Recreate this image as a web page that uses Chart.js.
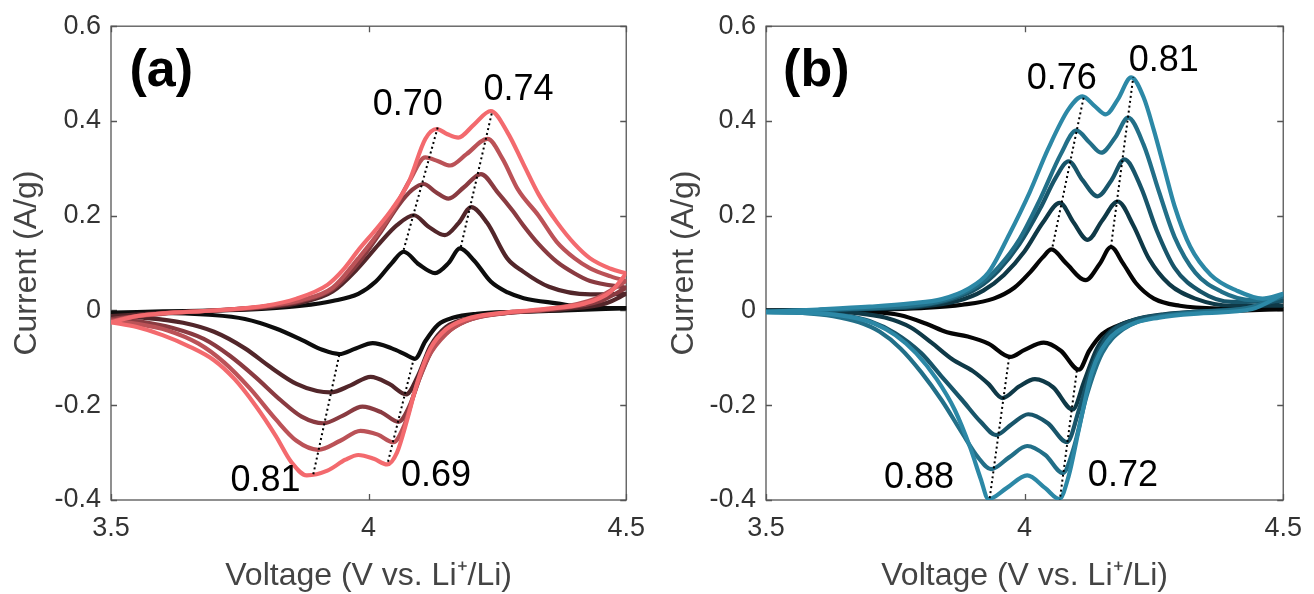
<!DOCTYPE html>
<html><head><meta charset="utf-8">
<script src="https://cdn.jsdelivr.net/npm/chart.js@4.4.0/dist/chart.umd.min.js"></script>
<style>
html,body{margin:0;padding:0;background:#fff;}
#wrap{position:relative;width:1314px;height:594px;overflow:hidden;}
.panel{position:absolute;top:0;width:657px;height:594px;}
</style></head><body>
<div id="wrap">
<div class="panel" style="left:0"><canvas id="ca" width="657" height="594"></canvas></div>
<div class="panel" style="left:657px"><canvas id="cb" width="657" height="594"></canvas></div>
</div>
<script>
// ---------- tick labels ----------
const xTicks = [3.5, 4, 4.5];
const yTicks = [-0.4, -0.2, 0, 0.2, 0.4, 0.6];

// ---------- panel (a): anodic (up) and cathodic (dn) branches, 5 scan rates ----------
const vA1up = [3.5, 3.6, 3.7, 3.8, 3.87, 3.93, 3.98, 4.014, 4.045, 4.068, 4.098, 4.129, 4.155, 4.177, 4.205, 4.237, 4.27, 4.301, 4.365, 4.43, 4.5];
const iA1up = [-0.005, -0.002, 0.0, 0.004, 0.01, 0.02, 0.035, 0.061, 0.1, 0.124, 0.097, 0.079, 0.1, 0.131, 0.105, 0.061, 0.038, 0.026, 0.015, 0.006, 0.005];
const vA1dn = [3.5, 3.6, 3.69, 3.76, 3.82, 3.87, 3.91, 3.943, 3.975, 4.008, 4.045, 4.07, 4.09, 4.11, 4.135, 4.165, 4.21, 4.28, 4.38, 4.5];
const iA1dn = [-0.005, -0.005, -0.009, -0.018, -0.038, -0.062, -0.083, -0.092, -0.08, -0.069, -0.08, -0.092, -0.102, -0.065, -0.03, -0.015, -0.007, -0.003, 0.0, 0.005];

const vA2up = [3.5, 3.6, 3.7, 3.8, 3.87, 3.93, 3.98, 4.02, 4.055, 4.088, 4.115, 4.148, 4.175, 4.199, 4.23, 4.269, 4.3, 4.35, 4.43, 4.5];
const iA2up = [-0.012, -0.005, 0.0, 0.006, 0.017, 0.04, 0.09, 0.14, 0.18, 0.201, 0.178, 0.159, 0.185, 0.218, 0.185, 0.11, 0.082, 0.05, 0.034, 0.035];
const vA2dn = [3.5, 3.57, 3.64, 3.7, 3.76, 3.81, 3.86, 3.9, 3.926, 3.965, 4.004, 4.04, 4.073, 4.095, 4.12, 4.15, 4.2, 4.28, 4.38, 4.46, 4.5];
const iA2dn = [-0.012, -0.016, -0.026, -0.045, -0.08, -0.12, -0.155, -0.17, -0.173, -0.158, -0.14, -0.155, -0.177, -0.14, -0.075, -0.035, -0.015, -0.004, 0.003, 0.015, 0.035];

const vA3up = [3.5, 3.6, 3.7, 3.8, 3.87, 3.93, 3.98, 4.02, 4.06, 4.085, 4.107, 4.13, 4.155, 4.185, 4.218, 4.25, 4.28, 4.3, 4.33, 4.365, 4.4, 4.43, 4.5];
const iA3up = [-0.018, -0.007, 0.0, 0.008, 0.02, 0.045, 0.1, 0.16, 0.225, 0.255, 0.267, 0.25, 0.236, 0.26, 0.288, 0.25, 0.21, 0.18, 0.14, 0.103, 0.078, 0.062, 0.048];
const vA3dn = [3.5, 3.56, 3.62, 3.68, 3.73, 3.78, 3.83, 3.87, 3.912, 3.95, 3.988, 4.025, 4.058, 4.08, 4.1, 4.125, 4.16, 4.2, 4.27, 4.36, 4.45, 4.5];
const iA3dn = [-0.018, -0.024, -0.037, -0.06, -0.095, -0.14, -0.19, -0.224, -0.238, -0.222, -0.203, -0.215, -0.235, -0.2, -0.14, -0.08, -0.04, -0.018, -0.005, 0.003, 0.02, 0.048];

const vA4up = [3.5, 3.55, 3.6, 3.7, 3.8, 3.87, 3.93, 3.98, 4.02, 4.05, 4.08, 4.11, 4.135, 4.158, 4.19, 4.231, 4.26, 4.29, 4.33, 4.365, 4.4, 4.43, 4.47, 4.5];
const iA4up = [-0.022, -0.012, -0.006, 0.0, 0.009, 0.022, 0.048, 0.11, 0.165, 0.215, 0.275, 0.323, 0.315, 0.306, 0.33, 0.362, 0.32, 0.255, 0.2, 0.145, 0.11, 0.089, 0.072, 0.062];
const vA4dn = [3.5, 3.55, 3.61, 3.67, 3.72, 3.77, 3.82, 3.86, 3.902, 3.945, 3.984, 4.018, 4.048, 4.07, 4.09, 4.115, 4.15, 4.19, 4.26, 4.35, 4.44, 4.5];
const iA4dn = [-0.022, -0.028, -0.042, -0.07, -0.11, -0.165, -0.23, -0.275, -0.294, -0.275, -0.254, -0.262, -0.278, -0.24, -0.17, -0.1, -0.05, -0.022, -0.006, 0.003, 0.025, 0.062];

const vA5up = [3.5, 3.55, 3.6, 3.7, 3.8, 3.86, 3.92, 3.95, 3.982, 4.015, 4.046, 4.078, 4.11, 4.132, 4.153, 4.174, 4.205, 4.237, 4.27, 4.3, 4.33, 4.365, 4.4, 4.43, 4.47, 4.5];
const iA5up = [-0.025, -0.012, -0.006, 0.0, 0.01, 0.025, 0.054, 0.085, 0.13, 0.172, 0.215, 0.271, 0.362, 0.383, 0.372, 0.365, 0.393, 0.421, 0.375, 0.31, 0.245, 0.187, 0.14, 0.11, 0.088, 0.078];
const vA5dn = [3.5, 3.55, 3.6, 3.65, 3.7, 3.74, 3.78, 3.82, 3.85, 3.88, 3.92, 3.955, 3.98, 4.01, 4.036, 4.055, 4.075, 4.095, 4.12, 4.15, 4.19, 4.25, 4.33, 4.42, 4.47, 4.5];
const iA5dn = [-0.025, -0.035, -0.052, -0.075, -0.105, -0.145, -0.2, -0.265, -0.32, -0.348, -0.338, -0.315, -0.305, -0.313, -0.325, -0.3, -0.23, -0.15, -0.08, -0.04, -0.018, -0.006, 0.002, 0.015, 0.04, 0.078];

// ---------- panel (b) ----------
const vB1up = [3.5, 3.6, 3.7, 3.8, 3.88, 3.94, 3.98, 4.01, 4.035, 4.052, 4.08, 4.118, 4.145, 4.167, 4.19, 4.215, 4.25, 4.3, 4.38, 4.5];
const iB1up = [0.0, 0.001, 0.002, 0.005, 0.012, 0.025, 0.048, 0.08, 0.112, 0.129, 0.1, 0.064, 0.098, 0.134, 0.1, 0.058, 0.025, 0.01, 0.004, 0.003];
const vB1dn = [3.5, 3.6, 3.7, 3.76, 3.81, 3.85, 3.89, 3.93, 3.972, 4.0, 4.037, 4.07, 4.105, 4.125, 4.15, 4.19, 4.25, 4.32, 4.4, 4.5];
const iB1dn = [0.0, 0.0, -0.003, -0.01, -0.028, -0.046, -0.055, -0.07, -0.098, -0.083, -0.068, -0.085, -0.125, -0.085, -0.05, -0.028, -0.013, -0.005, -0.001, 0.003];

const vB2up = [3.5, 3.6, 3.7, 3.8, 3.87, 3.92, 3.96, 4.0, 4.035, 4.068, 4.095, 4.122, 4.15, 4.18, 4.21, 4.24, 4.28, 4.33, 4.4, 4.5];
const iB2up = [0.0, 0.001, 0.003, 0.008, 0.02, 0.042, 0.075, 0.125, 0.185, 0.227, 0.185, 0.149, 0.19, 0.23, 0.18, 0.11, 0.055, 0.025, 0.01, 0.01];
const vB2dn = [3.5, 3.6, 3.68, 3.73, 3.78, 3.82, 3.86, 3.9, 3.93, 3.957, 3.99, 4.02, 4.055, 4.093, 4.115, 4.14, 4.17, 4.21, 4.27, 4.35, 4.43, 4.5];
const iB2dn = [-0.002, -0.002, -0.006, -0.015, -0.036, -0.068, -0.103, -0.128, -0.155, -0.185, -0.16, -0.145, -0.162, -0.209, -0.15, -0.08, -0.04, -0.02, -0.008, -0.002, 0.004, 0.02];

const vB3up = [3.5, 3.6, 3.7, 3.8, 3.86, 3.91, 3.95, 3.99, 4.03, 4.06, 4.085, 4.112, 4.141, 4.168, 4.193, 4.225, 4.255, 4.29, 4.34, 4.4, 4.5];
const iB3up = [-0.002, 0.001, 0.004, 0.01, 0.024, 0.048, 0.085, 0.14, 0.215, 0.28, 0.315, 0.275, 0.241, 0.275, 0.319, 0.26, 0.17, 0.09, 0.04, 0.018, 0.02];
const vB3dn = [3.5, 3.58, 3.65, 3.7, 3.75, 3.8, 3.84, 3.88, 3.915, 3.945, 3.975, 4.007, 4.045, 4.082, 4.105, 4.13, 4.16, 4.2, 4.26, 4.34, 4.43, 4.5];
const iB3dn = [-0.003, -0.004, -0.01, -0.022, -0.048, -0.09, -0.14, -0.19, -0.235, -0.263, -0.24, -0.219, -0.238, -0.278, -0.21, -0.12, -0.055, -0.025, -0.01, -0.002, 0.005, 0.025];

const vB4up = [3.5, 3.6, 3.7, 3.8, 3.86, 3.91, 3.95, 3.99, 4.03, 4.07, 4.1, 4.125, 4.148, 4.175, 4.2, 4.23, 4.26, 4.29, 4.33, 4.38, 4.44, 4.5];
const iB4up = [-0.003, 0.001, 0.005, 0.012, 0.027, 0.053, 0.092, 0.15, 0.235, 0.33, 0.38, 0.355, 0.333, 0.365, 0.407, 0.35, 0.25, 0.155, 0.08, 0.04, 0.022, 0.03];
const vB4dn = [3.5, 3.57, 3.63, 3.68, 3.72, 3.76, 3.8, 3.84, 3.88, 3.91, 3.935, 3.97, 4.005, 4.04, 4.074, 4.095, 4.12, 4.15, 4.19, 4.25, 4.33, 4.43, 4.5];
const iB4dn = [-0.003, -0.005, -0.012, -0.025, -0.045, -0.08, -0.13, -0.19, -0.26, -0.31, -0.335, -0.31, -0.286, -0.305, -0.343, -0.29, -0.18, -0.09, -0.04, -0.015, -0.004, 0.005, 0.03];

const vB5up = [3.5, 3.6, 3.7, 3.78, 3.84, 3.89, 3.93, 3.97, 4.01, 4.045, 4.085, 4.112, 4.135, 4.157, 4.18, 4.206, 4.23, 4.25, 4.27, 4.29, 4.32, 4.36, 4.41, 4.46, 4.5];
const iB5up = [-0.003, 0.002, 0.008, 0.015, 0.024, 0.045, 0.08, 0.16, 0.25, 0.34, 0.425, 0.452, 0.432, 0.414, 0.445, 0.492, 0.45, 0.38, 0.3, 0.22, 0.135, 0.075, 0.042, 0.025, 0.035];
const vB5dn = [3.5, 3.6, 3.66, 3.71, 3.75, 3.79, 3.83, 3.865, 3.895, 3.915, 3.93, 3.965, 4.005, 4.04, 4.067, 4.085, 4.105, 4.13, 4.16, 4.2, 4.26, 4.34, 4.44, 4.5];
const iB5dn = [-0.004, -0.006, -0.013, -0.028, -0.052, -0.09, -0.145, -0.21, -0.29, -0.355, -0.398, -0.375, -0.348, -0.375, -0.398, -0.35, -0.25, -0.13, -0.065, -0.032, -0.015, -0.006, 0.003, 0.035];

// ---------- dotted peak-shift guides (V pair, I pair) ----------
const gA1v = [4.068, 4.134], gA1i = [0.128, 0.386];
const gA2v = [4.179, 4.240], gA2i = [0.134, 0.421];
const gA3v = [3.943, 3.892], gA3i = [-0.094, -0.349];
const gA4v = [4.088, 4.037], gA4i = [-0.100, -0.322];
const gB1v = [4.054, 4.114], gB1i = [0.135, 0.449];
const gB2v = [4.167, 4.210], gB2i = [0.135, 0.492];
const gB3v = [3.970, 3.932], gB3i = [-0.099, -0.400];
const gB4v = [4.101, 4.068], gB4i = [-0.127, -0.400];

// ---------- peak-shift slope labels ----------
const labelsA = ['0.70', '0.74', '0.81', '0.69'];
const labelsB = ['0.76', '0.81', '0.88', '0.72'];

// ---------- styling ----------
const FONT = '"Liberation Sans", Arial, Helvetica, sans-serif';
const colorsA = ['#0d0d0d', '#52262a', '#8a3b41', '#bb5257', '#f36a6e'];
const colorsB = ['#050505', '#0f3947', '#18556a', '#226f88', '#2c88a6'];

const zip = (v, i) => v.map((x, k) => ({x: x, y: i[k]}));
const fmt = v => (Math.abs(v) < 1e-9 ? '0' : String(Math.round(v * 10) / 10));

const framePlugin = {
  id: 'frame',
  beforeDatasetsDraw(chart) {
    const {ctx, chartArea: a, scales: {x, y}} = chart;
    ctx.save();
    ctx.strokeStyle = '#555';
    ctx.lineWidth = 1.3;
    ctx.strokeRect(a.left, a.top, a.right - a.left, a.bottom - a.top);
    const L = 6;
    ctx.beginPath();
    xTicks.forEach(v => {
      const px = Math.round(x.getPixelForValue(v)) + 0.5;
      ctx.moveTo(px, a.bottom); ctx.lineTo(px, a.bottom - L);
      ctx.moveTo(px, a.top); ctx.lineTo(px, a.top + L);
    });
    yTicks.forEach(v => {
      const py = Math.round(y.getPixelForValue(v)) + 0.5;
      ctx.moveTo(a.left, py); ctx.lineTo(a.left + L, py);
      ctx.moveTo(a.right, py); ctx.lineTo(a.right - L, py);
    });
    ctx.stroke();
    ctx.restore();
  },
  afterDatasetsDraw(chart) {
    const {ctx, scales: {x, y}} = chart;
    const ann = chart.options.annot;
    ctx.save();
    ctx.fillStyle = '#000';
    ctx.textBaseline = 'middle';
    ctx.textAlign = 'center';
    ctx.font = '36px ' + FONT;
    ann.texts.forEach((t, k) => {
      ctx.fillText(t, x.getPixelForValue(ann.tx[k]), y.getPixelForValue(ann.ty[k]));
    });
    ctx.textAlign = 'left';
    ctx.font = 'bold 52px ' + FONT;
    ctx.fillText(ann.panel, x.getPixelForValue(ann.px), y.getPixelForValue(ann.py));
    ctx.restore();
  }
};

function build(id, curves, colors, guides, annot, yWidth) {
  const datasets = [];
  curves.forEach((c, k) => {
    [[c[0], c[1]], [c[2], c[3]]].forEach(br => {
      datasets.push({
        data: zip(br[0], br[1]),
        showLine: true,
        borderColor: colors[k],
        borderWidth: 4.2,
        pointRadius: 0,
        cubicInterpolationMode: 'monotone',
        borderCapStyle: 'round',
        borderJoinStyle: 'round',
        order: 10 - k
      });
    });
  });
  guides.forEach(g => {
    datasets.push({
      data: zip(g[0], g[1]),
      showLine: true,
      borderColor: '#000',
      borderWidth: 2,
      borderDash: [2, 3],
      pointRadius: 0,
      tension: 0,
      order: 0
    });
  });
  return new Chart(document.getElementById(id), {
    type: 'scatter',
    data: {datasets},
    options: {
      responsive: false,
      animation: false,
      events: [],
      annot: annot,
      layout: {padding: {left: 0, right: 23, top: 23, bottom: 0}},
      plugins: {legend: {display: false}, tooltip: {enabled: false}},
      scales: {
        x: {
          type: 'linear', position: 'bottom', min: 3.5, max: 4.5,
          afterBuildTicks: s => { s.ticks = xTicks.map(v => ({value: v})); },
          afterFit: s => { s.height = 94; },
          grid: {display: false, drawTicks: false},
          border: {display: false},
          ticks: {padding: 12, color: '#333', font: {family: FONT, size: 27}, maxRotation: 0, autoSkip: false, callback: v => fmt(v)},
          title: {display: true, text: 'Voltage (V vs. Li\u207A/Li)', color: '#444', font: {family: FONT, size: 32}, padding: {top: 0, bottom: -1}}
        },
        y: {
          type: 'linear', position: 'left', min: -0.4, max: 0.6,
          afterBuildTicks: s => { s.ticks = yTicks.map(v => ({value: v})); },
          afterFit: s => { s.width = yWidth; },
          grid: {display: false, drawTicks: false},
          border: {display: false},
          ticks: {padding: 10, color: '#333', font: {family: FONT, size: 27}, autoSkip: false, callback: v => fmt(v)},
          title: {display: true, text: 'Current (A/g)', color: '#444', font: {family: FONT, size: 32}, padding: {top: 8, bottom: 0}}
        }
      }
    },
    plugins: [framePlugin]
  });
}

build('ca',
  [[vA1up, iA1up, vA1dn, iA1dn], [vA2up, iA2up, vA2dn, iA2dn], [vA3up, iA3up, vA3dn, iA3dn], [vA4up, iA4up, vA4dn, iA4dn], [vA5up, iA5up, vA5dn, iA5dn]],
  colorsA,
  [[gA1v, gA1i], [gA2v, gA2i], [gA3v, gA3i], [gA4v, gA4i]],
  {texts: labelsA, tx: [4.076, 4.291, 3.800, 4.131], ty: [0.433, 0.466, -0.361, -0.350], panel: '(a)', px: 3.536, py: 0.505},
  111);

build('cb',
  [[vB1up, iB1up, vB1dn, iB1dn], [vB2up, iB2up, vB2dn, iB2dn], [vB3up, iB3up, vB3dn, iB3dn], [vB4up, iB4up, vB4dn, iB4dn], [vB5up, iB5up, vB5dn, iB5dn]],
  colorsB,
  [[gB1v, gB1i], [gB2v, gB2i], [gB3v, gB3i], [gB4v, gB4i]],
  {texts: labelsB, tx: [4.072, 4.269, 3.796, 4.190], ty: [0.488, 0.527, -0.354, -0.350], panel: '(b)', px: 3.533, py: 0.505},
  109);
</script>
</body></html>
